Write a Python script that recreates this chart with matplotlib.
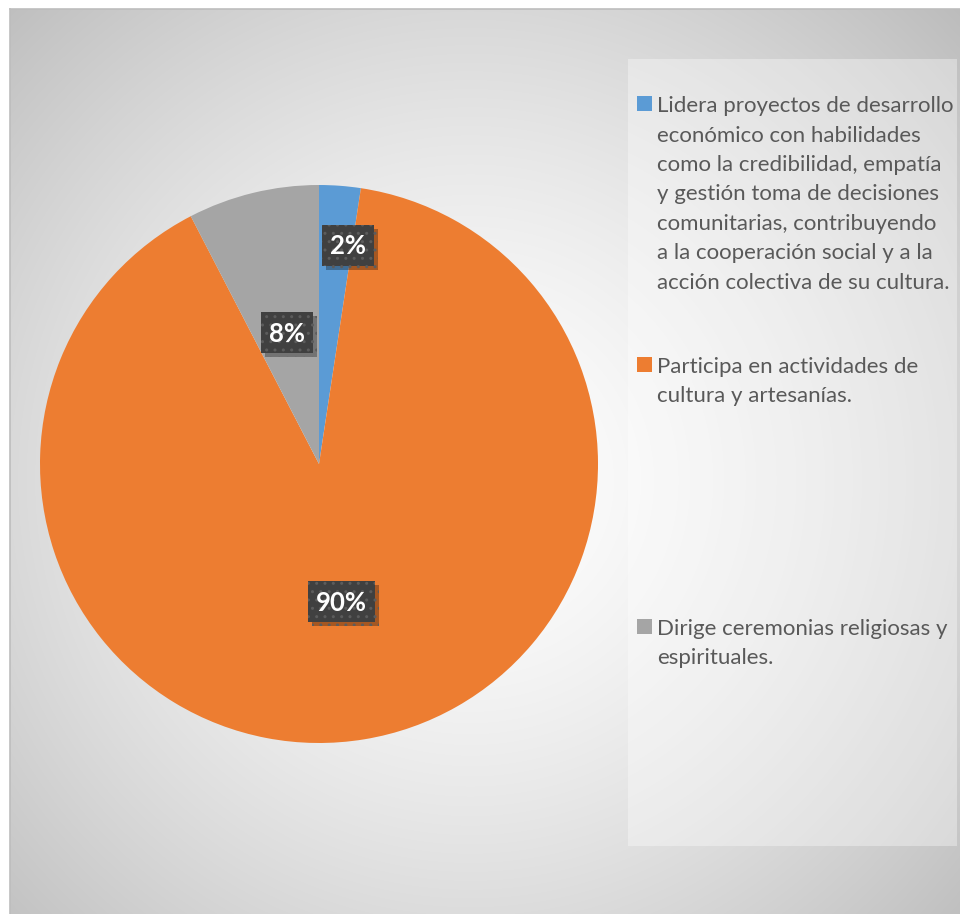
import numpy as np
import matplotlib
matplotlib.use("Agg")
import matplotlib.pyplot as plt
from matplotlib.patches import Rectangle
import matplotlib.patheffects as pe

# ---- data ----
categories = [
    "Lidera proyectos de desarrollo\neconómico con habilidades\ncomo la credibilidad, empatía\ny gestión toma de decisiones\ncomunitarias, contribuyendo\na la cooperación social y a la\nacción colectiva de su cultura.",
    "Participa en actividades de\ncultura y artesanías.",
    "Dirige ceremonias religiosas y\nespirituales.",
]
values = [2.4, 90.0, 7.6]
colors = ["#5B9BD5", "#ED7D31", "#A5A5A5"]
label_radius = [0.79, 0.50, 0.485]
label_angle_shift = [-3.2, 0.0, 0.0]

W, H = 960, 914
fig = plt.figure(figsize=(W / 100, H / 100), dpi=100)
fig.patch.set_facecolor("white")

def fx(px):
    return px / W

def fy(py):
    return 1 - py / H

# ---- background gradient ----
bg = fig.add_axes([fx(10), 0, 1 - fx(10), 1 - 9 / H], zorder=0)
yy, xx = np.mgrid[9:H, 10:W]
cx, cy = 470, 480
d = np.sqrt((xx - cx) ** 2 + (yy - cy) ** 2) / 660.0
val = 255 - 64 * np.clip(d, 0, 1.2) ** 1.45
img = np.dstack([val, val, val]) / 255.0
bg.imshow(np.clip(img, 0, 1), aspect="auto", extent=[0, 1, 0, 1], origin="upper")
bg.set_axis_off()
fig.add_artist(plt.Line2D([fx(10), 1], [fy(9), fy(9)], color="#bdbdbd", lw=1.2, zorder=1))
fig.add_artist(plt.Line2D([fx(10), fx(10)], [0, fy(9)], color="#bdbdbd", lw=1.2, zorder=1))

# legend panel
fig.add_artist(Rectangle((fx(628), fy(846)), fx(957 - 628), (846 - 59) / H,
                         transform=fig.transFigure, facecolor="white",
                         alpha=0.35, edgecolor="none", zorder=1))

# ---- pie ----
R = 279
ax = fig.add_axes([fx(319 - R), fy(464 + R), 2 * R / W, 2 * R / H], zorder=2)
ax.set_facecolor("none")
wedges, _ = ax.pie(values, colors=colors, startangle=90, counterclock=False,
                   radius=1, wedgeprops=dict(linewidth=0))
ax.set_xlim(-1, 1)
ax.set_ylim(-1, 1)
ax.set_aspect("equal")
ax.set_axis_off()

total = sum(values)
label_fs = 18.5
cap_half = 9.0
fig.canvas.draw()
renderer = fig.canvas.get_renderer()
for w, v, r, sh in zip(wedges, values, label_radius, label_angle_shift):
    ang = np.deg2rad((w.theta1 + w.theta2) / 2 + sh)
    pos = (r * np.cos(ang), r * np.sin(ang))
    cxp, cyp = ax.transData.transform(pos)
    t = fig.text(cxp / W, (cyp - cap_half) / H, f"{v / total * 100:.0f}%",
                 ha="center", va="baseline", color="white", fontsize=label_fs,
                 fontweight="bold", family="Lato", zorder=7)
    bb = t.get_window_extent(renderer)
    bw = bb.width + 16
    bh = 41
    rect = Rectangle(((cxp - bw / 2) / W, (cyp - bh / 2) / H), bw / W, bh / H,
                     transform=fig.transFigure, facecolor="#404040",
                     edgecolor="#5c5c5c", linewidth=0, hatch="..", zorder=5)
    rect.set_path_effects([pe.SimplePatchShadow(offset=(3, -3), shadow_rgbFace="#000000",
                                                alpha=0.3), pe.Normal()])
    fig.add_artist(rect)

# ---- legend ----
line_gap = 29.5
baselines = [112, 373, 635]
for lab, c, b in zip(categories, colors, baselines):
    fig.add_artist(Rectangle((fx(637), fy(b - 1)), fx(15), 15 / H,
                             transform=fig.transFigure, facecolor=c,
                             edgecolor="none", zorder=3))
    for i, line in enumerate(lab.split("\n")):
        fig.text(fx(657), fy(b + i * line_gap), line, ha="left", va="baseline",
                 fontsize=16.0, color="#595959", family="Lato", zorder=3)

fig.savefig("out.png", dpi=100)
